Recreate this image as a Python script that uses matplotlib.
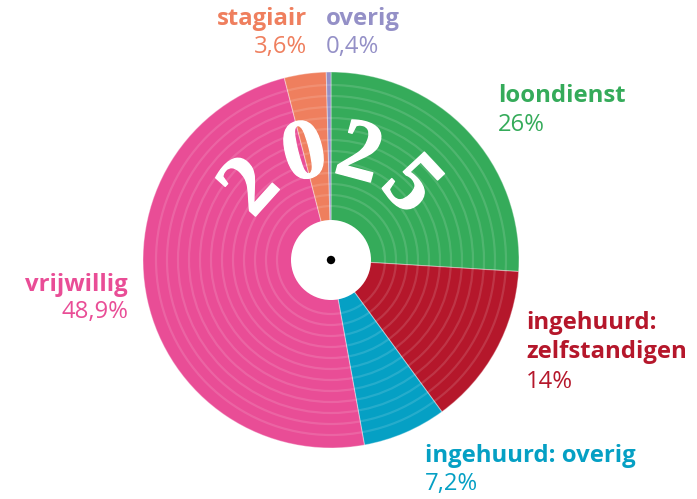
import matplotlib
matplotlib.use("Agg")
import matplotlib.pyplot as plt
from matplotlib.patches import Circle
import matplotlib.patheffects as pe
import numpy as np

categories = ["loondienst", "ingehuurd:\nzelfstandigen", "ingehuurd: overig", "vrijwillig", "stagiair", "overig"]
values = [26.0, 14.0, 7.2, 48.9, 3.6, 0.4]
value_labels = ["26%", "14%", "7,2%", "48,9%", "3,6%", "0,4%"]
colors = ["#35ab5a", "#b5172b", "#05a0c4", "#e94d96", "#ef7f5e", "#9490c7"]
year_text = "2025"

W, H = 697, 499
fig = plt.figure(figsize=(W / 100, H / 100), dpi=100)
ax = fig.add_axes([0, 0, 1, 1])

cx, cy = 331, H - 260
R = 188
ax.pie(values, colors=colors, startangle=90, counterclock=False, radius=R,
       center=(cx, cy), wedgeprops=dict(edgecolor=(1, 1, 1, 0.35), linewidth=0.8),
       normalize=True, frame=True)
ax.set_xlim(0, W)
ax.set_ylim(0, H)
ax.set_aspect("equal")
ax.axis("off")

# grooves
for r in np.arange(54, 178, 11):
    ax.add_patch(Circle((cx, cy), r, fill=False, edgecolor=(1, 1, 1, 0.13), linewidth=1.6))

ax.add_patch(Circle((cx, cy), 40, facecolor="white", edgecolor="none", zorder=5))
ax.add_patch(Circle((cx, cy), 4.2, facecolor="black", edgecolor="none", zorder=6))

# year along arc
angles = [138, 104, 75, 43]
for ch, a in zip(year_text, angles):
    rad = np.deg2rad(a)
    x = cx + 106 * np.cos(rad)
    y = cy + 106 * np.sin(rad)
    ax.text(x, y, ch, fontsize=62, fontweight="bold",
            fontfamily=["Liberation Serif", "DejaVu Serif"],
            color="white", ha="center", va="center", rotation=a - 90, zorder=7,
            path_effects=[pe.withStroke(linewidth=1.0, foreground="white")])

fs = 17.2
fam = ["Open Sans", "DejaVu Sans"]
# (x, name line centres, value centre, ha)
lab = [
    (498, [96], 125, "left"),
    (526, [323, 352], 382, "left"),
    (425, [456], 484, "left"),
    (128, [285], 312, "right"),
    (307, [19], 47, "right"),
    (326, [19], 47, "left"),
]
for (x, ys, yv, ha), name, vl, c in zip(lab, categories, value_labels, colors):
    for line, y in zip(name.split("\n"), ys):
        ax.text(x, H - y, line, fontsize=fs, fontweight="bold", fontfamily=fam, color=c,
                ha=ha, va="center")
    ax.text(x, H - yv, vl, fontsize=fs, fontfamily=fam, color=c, ha=ha, va="center")

fig.savefig("out.png", dpi=100)
